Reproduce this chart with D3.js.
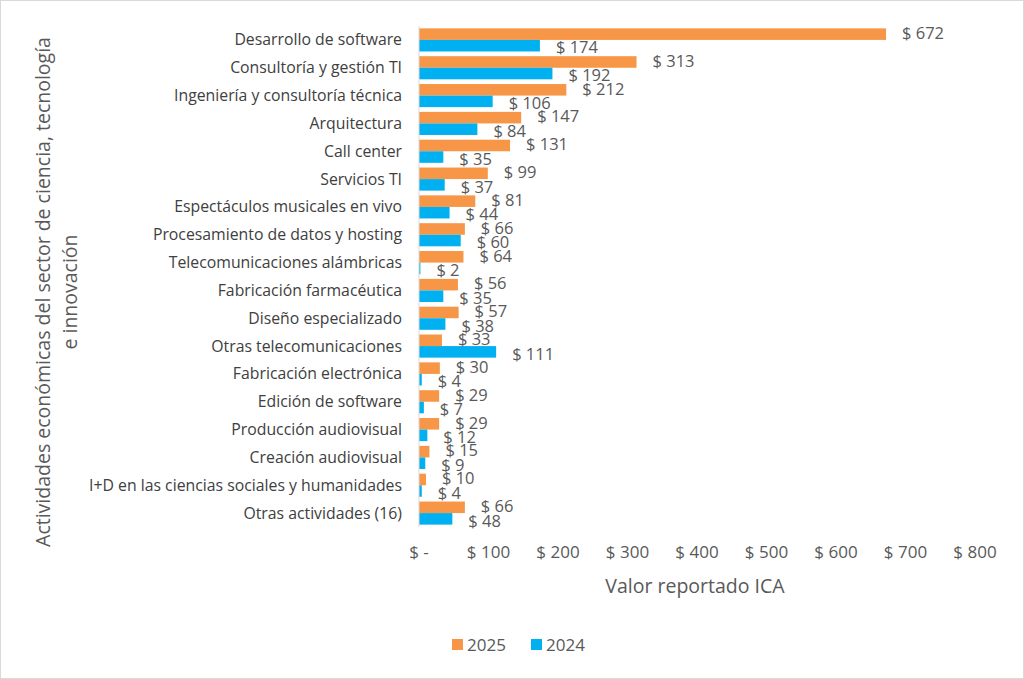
<!DOCTYPE html><html><head><meta charset="utf-8">
<script src="https://cdn.jsdelivr.net/npm/d3@7"></script>
<style>body{margin:0;background:#fff}svg{font-family:"Open Sans",Calibri,sans-serif}</style></head><body>
<script>
const categories=["Desarrollo de software","Consultoría y gestión TI","Ingeniería y consultoría técnica","Arquitectura","Call center","Servicios TI","Espectáculos musicales en vivo","Procesamiento de datos y hosting","Telecomunicaciones alámbricas","Fabricación farmacéutica","Diseño especializado","Otras telecomunicaciones","Fabricación electrónica","Edición de software","Producción audiovisual","Creación audiovisual","I+D en las ciencias sociales y humanidades","Otras actividades (16)"];
const v2025=[672,313,212,147,131,99,81,66,64,56,57,33,30,29,29,15,10,66];
const v2024=[174,192,106,84,35,37,44,60,2,35,38,111,4,7,12,9,4,48];
const ticks=[0,100,200,300,400,500,600,700,800];
const W=1024,H=679;
const svg=d3.select("body").append("svg").attr("width",W).attr("height",H);
svg.append("rect").attr("x",0.5).attr("y",0.5).attr("width",W-1).attr("height",H-1).attr("fill","#fff").attr("stroke","#d9d9d9");
const x=d3.scaleLinear().domain([0,800]).range([419,975]);
const y=d3.scaleBand().domain(categories).range([26,527]).paddingInner(0.17).paddingOuter(0.085);
const bh=y.bandwidth()/2;
const txt="#595959";
const g=svg.append("g");
categories.forEach((c,i)=>{
  const y0=y(c);
  g.append("rect").attr("x",x(0)).attr("y",y0).attr("width",x(v2025[i])-x(0)).attr("height",bh).attr("fill","#F79646");
  g.append("rect").attr("x",x(0)).attr("y",y0+bh).attr("width",x(v2024[i])-x(0)).attr("height",bh).attr("fill","#00B0F0");
  g.append("text").attr("x",x(v2025[i])+16).attr("y",y0+bh/2-1).attr("dy","0.35em").attr("font-size",16.5).attr("fill",txt).text("$ "+v2025[i]);
  g.append("text").attr("x",x(v2024[i])+16).attr("y",y0+bh*1.5+2).attr("dy","0.35em").attr("font-size",16.5).attr("fill",txt).text("$ "+v2024[i]);
  g.append("text").attr("x",402).attr("y",y0+bh).attr("dy","0.35em").attr("text-anchor","end").attr("font-size",15.8).attr("fill","#404040").text(c);
});
g.append("line").attr("x1",x(0)).attr("x2",x(0)).attr("y1",26).attr("y2",527).attr("stroke","#d9d9d9");
ticks.forEach(t=>{
  g.append("text").attr("x",x(t)).attr("y",558).attr("text-anchor","middle").attr("font-size",17).attr("fill",txt).text(t===0?"$ -":"$ "+t);
});
svg.append("text").attr("x",695).attr("y",593).attr("text-anchor","middle").attr("font-size",19.5).attr("fill",txt).text("Valor reportado ICA");
const yt=svg.append("text").attr("transform","translate(0,292) rotate(-90)").attr("text-anchor","middle").attr("font-size",19.5).attr("fill",txt);
yt.append("tspan").attr("x",0).attr("y",50).text("Actividades económicas del sector de ciencia, tecnología");
yt.append("tspan").attr("x",0).attr("y",77).text("e innovación");
[["2025","#F79646",452],["2024","#00B0F0",531]].forEach(([l,c,xx])=>{
  svg.append("rect").attr("x",xx).attr("y",639).attr("width",11).attr("height",11).attr("fill",c);
  svg.append("text").attr("x",xx+15).attr("y",645).attr("dy","0.35em").attr("font-size",17).attr("fill",txt).text(l);
});
</script></body></html>
